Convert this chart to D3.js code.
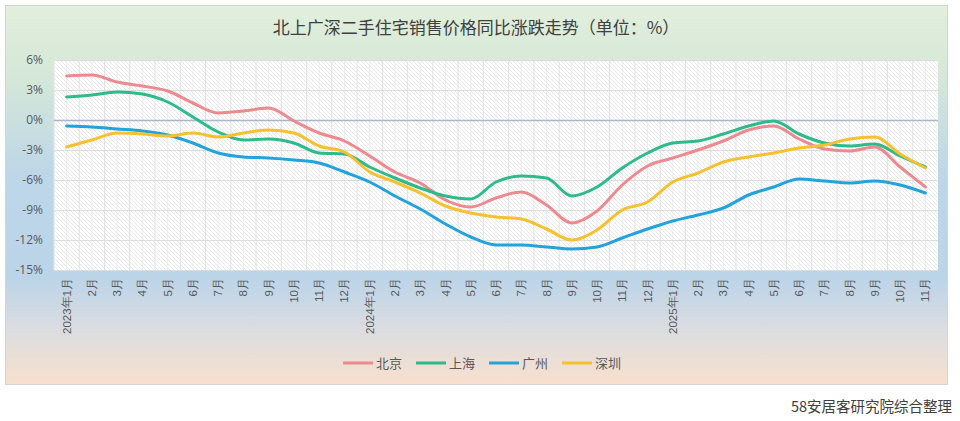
<!DOCTYPE html>
<html><head><meta charset="utf-8">
<script src="https://cdn.jsdelivr.net/npm/d3@7"></script>
<style>
html,body{margin:0;padding:0;background:#fff;}
svg{display:block;font-family:"Noto Sans CJK SC","Noto Sans",sans-serif;}
</style></head>
<body>
<svg id="chart" width="960" height="421"></svg>
<script>
const months = ["2023年1月","2月","3月","4月","5月","6月","7月","8月","9月","10月","11月","12月",
"2024年1月","2月","3月","4月","5月","6月","7月","8月","9月","10月","11月","12月",
"2025年1月","2月","3月","4月","5月","6月","7月","8月","9月","10月","11月"];
const beijing = [4.4,4.5,3.8,3.4,2.9,1.7,0.7,0.9,1.2,-0.1,-1.3,-2.1,-3.6,-5.2,-6.3,-8.0,-8.7,-7.8,-7.2,-8.5,-10.3,-9.1,-6.5,-4.6,-3.8,-3.0,-2.1,-1.0,-0.6,-1.9,-2.9,-3.1,-2.7,-4.7,-6.7];
const shanghai = [2.3,2.5,2.8,2.6,1.8,0.3,-1.2,-2.0,-1.9,-2.3,-3.3,-3.4,-4.7,-5.8,-6.8,-7.6,-7.9,-6.2,-5.6,-5.8,-7.6,-6.7,-4.8,-3.3,-2.3,-2.1,-1.4,-0.6,-0.1,-1.4,-2.3,-2.6,-2.4,-3.6,-4.7];
const guangzhou = [-0.6,-0.7,-0.9,-1.1,-1.5,-2.3,-3.3,-3.7,-3.8,-4.0,-4.3,-5.2,-6.2,-7.6,-8.9,-10.4,-11.7,-12.5,-12.5,-12.7,-12.9,-12.7,-11.8,-10.9,-10.1,-9.5,-8.8,-7.5,-6.7,-5.9,-6.1,-6.3,-6.1,-6.5,-7.3];
const shenzhen = [-2.7,-2.0,-1.3,-1.4,-1.6,-1.3,-1.7,-1.3,-1.0,-1.3,-2.6,-3.2,-5.2,-6.2,-7.3,-8.6,-9.3,-9.7,-9.9,-10.9,-12.0,-11.0,-9.0,-8.2,-6.2,-5.3,-4.2,-3.7,-3.3,-2.8,-2.5,-1.9,-1.7,-3.4,-4.8];
const seriesNames = ["北京","上海","广州","深圳"];
const seriesColors = ["#ec8a8f","#2dbb8b","#22a3dc","#f5c12e"];
const yTicks = [6,3,0,-3,-6,-9,-12,-15];
const title = "北上广深二手住宅销售价格同比涨跌走势（单位：%）";
const source = "58安居客研究院综合整理";

const series = [beijing, shanghai, guangzhou, shenzhen];
const svg = d3.select("#chart");
const defs = svg.append("defs");

const bg = defs.append("linearGradient").attr("id","bg").attr("x1",0).attr("y1",0).attr("x2",0).attr("y2",1);
bg.append("stop").attr("offset","0%").attr("stop-color","#e2efdc");
bg.append("stop").attr("offset","18%").attr("stop-color","#d6e8d8");
bg.append("stop").attr("offset","45%").attr("stop-color","#bdd6e8");
bg.append("stop").attr("offset","72%").attr("stop-color","#bcd4e8");
bg.append("stop").attr("offset","86%").attr("stop-color","#dcdde0");
bg.append("stop").attr("offset","100%").attr("stop-color","#f8e0cd");

const pat = defs.append("pattern").attr("id","hatch").attr("patternUnits","userSpaceOnUse")
  .attr("width",4).attr("height",4);
pat.append("rect").attr("width",4).attr("height",4).attr("fill","#ffffff");
pat.append("path").attr("d","M-1,-1 L5,5 M-1,3 L1,5 M3,-1 L5,1").attr("stroke","#e8e8e8").attr("stroke-width",1);

svg.append("rect").attr("x",5.5).attr("y",5.5).attr("width",942).attr("height",379)
  .attr("fill","url(#bg)").attr("stroke","#d4d4d4");

const m = {left:54, right:938, top:60, bottom:270};
const x = d3.scaleBand().domain(months.map((d,i)=>i)).range([m.left,m.right]);
const y = d3.scaleLinear().domain([-15,6]).range([m.bottom,m.top]);
const cx = i => x(i) + x.bandwidth()/2;

svg.append("rect").attr("x",m.left).attr("y",m.top).attr("width",m.right-m.left).attr("height",m.bottom-m.top)
  .attr("fill","url(#hatch)");

// vertical grid
const vg = svg.append("g");
months.forEach((d,i)=>{
  vg.append("line").attr("x1",x(i)).attr("x2",x(i)).attr("y1",m.top).attr("y2",m.bottom)
    .attr("stroke","#e2e2e2").attr("stroke-width",1);
  vg.append("line").attr("x1",cx(i)).attr("x2",cx(i)).attr("y1",m.top).attr("y2",m.bottom)
    .attr("stroke","#ececec").attr("stroke-width",1);
});
// horizontal grid
const yAxis = d3.axisLeft(y).tickValues(yTicks).tickSize(-(m.right-m.left)).tickFormat(d=>d+"%");
const ya = svg.append("g").attr("transform",`translate(${m.left},0)`).call(yAxis);
ya.select(".domain").remove();
ya.selectAll(".tick line").attr("stroke",d=>d===0?"#a9b7c9":"#dedede").attr("stroke-width",d=>d===0?1.5:1);
ya.selectAll(".tick text").attr("x",-11).attr("fill","#595959").style("font-size","12px")
  .style("font-family","'Open Sans','Noto Sans',sans-serif");

// x labels
const xAxis = d3.axisBottom(x).tickSize(0).tickFormat(i=>months[i]);
const xa = svg.append("g").attr("transform",`translate(0,${m.bottom})`).call(xAxis);
xa.select(".domain").remove();
xa.selectAll(".tick text").attr("transform","rotate(-90)").attr("x",-8).attr("y",0).attr("dy","0.35em")
  .attr("text-anchor","end").attr("fill","#595959").style("font-size","11.5px");

// lines
const line = d3.line().x((d,i)=>cx(i)).y(d=>y(d)).curve(d3.curveMonotoneX);
series.forEach((s,k)=>{
  svg.append("path").datum(s).attr("d",line).attr("fill","none").attr("stroke",seriesColors[k])
    .attr("stroke-width",3).attr("stroke-linejoin","round").attr("stroke-linecap","round");
});

// title
svg.append("text").attr("x",476).attr("y",34).attr("text-anchor","middle").attr("fill","#404040")
  .style("font-size","17px").text(title);

// legend
const legX = [343,416,489,562];
const lg = svg.append("g");
seriesNames.forEach((n,k)=>{
  lg.append("line").attr("x1",legX[k]).attr("x2",legX[k]+30).attr("y1",363).attr("y2",363)
    .attr("stroke",seriesColors[k]).attr("stroke-width",3);
  lg.append("text").attr("x",legX[k]+33).attr("y",363).attr("dy","0.35em").attr("fill","#595959")
    .style("font-size","13px").text(n);
});

// source
svg.append("text").attr("x",952).attr("y",412).attr("text-anchor","end").attr("fill","#404040")
  .style("font-size","14.5px").text(source);
</script>
</body></html>
